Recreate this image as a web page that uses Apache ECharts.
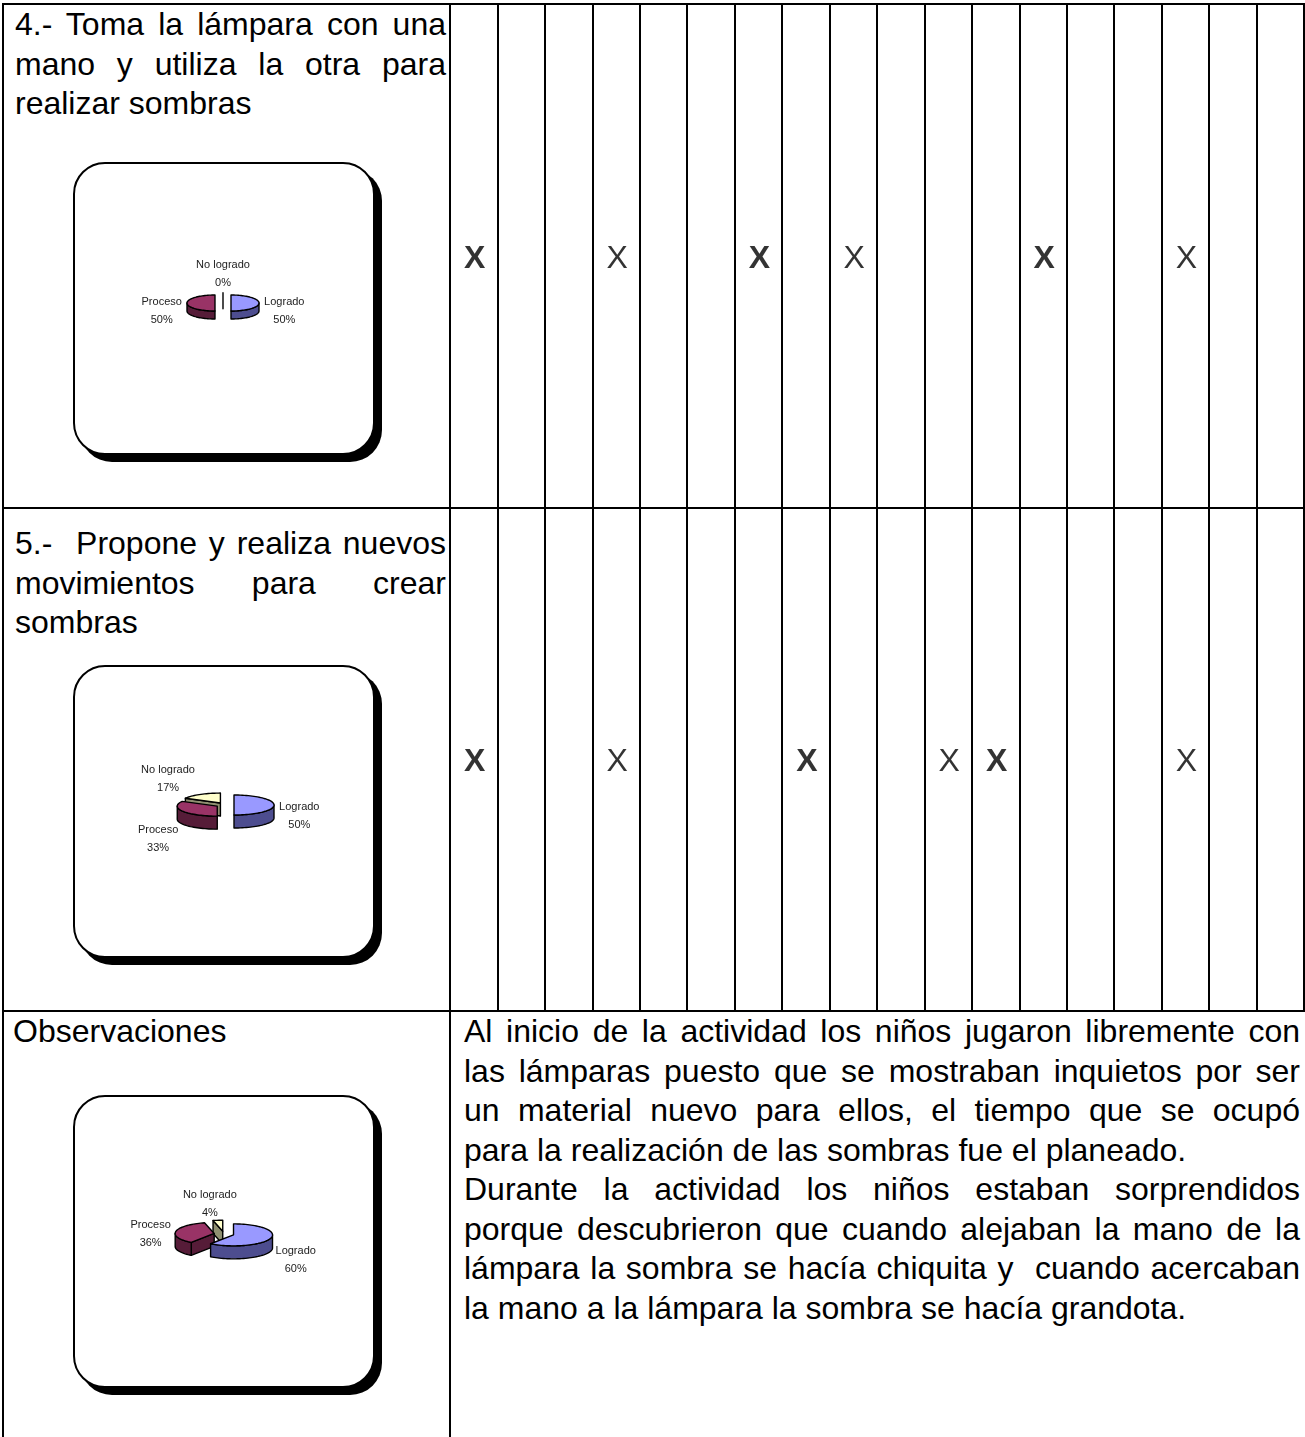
<!DOCTYPE html>
<html lang="es">
<head>
<meta charset="utf-8">
<title>Sombras - evaluación</title>
<script src="https://cdn.jsdelivr.net/npm/echarts@6/dist/echarts.min.js"></script>
<style>
html,body{margin:0;padding:0;background:#fff;}
#page{position:relative;width:1305px;height:1437px;overflow:hidden;font-family:"Liberation Sans",Arial,Helvetica,sans-serif;color:#000;}
.ln{position:absolute;background:#000;}
.cell{position:absolute;font-size:32px;line-height:39.5px;}
.j{text-align:justify;text-align-last:justify;}
.box{position:absolute;box-sizing:border-box;width:302px;height:293px;border:2.5px solid #000;border-radius:32px;background:#fff;box-shadow:7px 7px 0 0 #000;}
#chart{position:absolute;left:0;top:0;width:1305px;height:1437px;z-index:5;}
</style>
</head>
<body>
<div id="page">
  <div class="ln" style="left:2px;top:3px;width:1303px;height:2px"></div>
  <div class="ln" style="left:2px;top:3px;width:2px;height:1434px"></div>
  <div class="ln" style="left:2px;top:507px;width:1303px;height:2px"></div>
  <div class="ln" style="left:2px;top:1010px;width:1303px;height:2px"></div>
  <div class="ln" style="left:449px;top:1010px;width:2px;height:427px"></div>

  <div class="cell" style="left:15px;top:5px;width:431px">
    <div class="j">4.- Toma la lámpara con una</div>
    <div class="j">mano y utiliza la otra para</div>
    <div>realizar sombras</div>
  </div>
  <div class="cell" style="left:15px;top:524px;width:431px">
    <div class="j">5.-&nbsp; Propone y realiza nuevos</div>
    <div class="j">movimientos para crear</div>
    <div>sombras</div>
  </div>
  <div class="cell" style="left:13px;top:1012px;width:431px">
    <div>Observaciones</div>
  </div>
  <div class="cell" style="left:464px;top:1012px;width:836px">
    <div class="j">Al inicio de la actividad los niños jugaron libremente con</div>
    <div class="j">las lámparas puesto que se mostraban inquietos por ser</div>
    <div class="j">un material nuevo para ellos, el tiempo que se ocupó</div>
    <div>para la realización de las sombras fue el planeado.</div>
    <div class="j">Durante la actividad los niños estaban sorprendidos</div>
    <div class="j">porque descubrieron que cuando alejaban la mano de la</div>
    <div class="j">lámpara la sombra se hacía chiquita y&nbsp; cuando acercaban</div>
    <div>la mano a la lámpara la sombra se hacía grandota.</div>
  </div>

  <div class="box" style="left:73px;top:162px"></div>
  <div class="box" style="left:73px;top:665px"></div>
  <div class="box" style="left:73px;top:1095px"></div>

  <div id="chart"></div>
</div>
<script>
// ---------- data ----------
const columns = ['1','2','3','4','5','6','7','8','9','10','11','12','13','14','15','16','17','18'];
const indicators = ['Indicador 4', 'Indicador 5'];
const boldMarks = [['1','Indicador 4'], ['7','Indicador 4'], ['13','Indicador 4'],
                   ['1','Indicador 5'], ['8','Indicador 5'], ['12','Indicador 5']];
const plainMarks = [['4','Indicador 4'], ['9','Indicador 4'], ['16','Indicador 4'],
                    ['4','Indicador 5'], ['11','Indicador 5'], ['16','Indicador 5']];

const pieNames = ['Logrado', 'Proceso', 'No logrado'];
const pieIndicador4 = [50, 50, 0];
const pieIndicador5 = [50, 33, 17];
const pieObservaciones = [60, 36, 4];

// ---------- style / layout ----------
const pieColors = [
  { top: '#9999FF', side: '#4D4D8F' },
  { top: '#993366', side: '#561C38' },
  { top: '#FFFFCC', side: '#8F8F70' }
];
const pieLayouts = [
  { cx: 223, cy: 303, a: 28, b: 8, depth: 8, explode: 8 },
  { cx: 225, cy: 805, a: 40, b: 10, depth: 13, explode: 9 },
  { cx: 224, cy: 1234, a: 39, b: 11, depth: 13, explode: 10 }
];
const FONT = '"Liberation Sans", Arial, sans-serif';
const RAD = Math.PI / 180;

function pie3D(values, L) {
  const total = values.reduce((s, v) => s + v, 0);
  const starts = [];
  let acc = 0;
  values.forEach(v => { starts.push(acc / total * 360); acc += v; });
  const f = u => Math.sign(u) * Math.min(1, Math.abs(u) * 2);
  return {
    type: 'custom',
    coordinateSystem: 'none',
    silent: true,
    animation: false,
    data: values.map((v, i) => ({ name: pieNames[i], value: v })),
    renderItem: function (params, api) {
      const i = params.dataIndex;
      const v = api.value(0);
      const s = starts[i];
      const e = s + v / total * 360;
      const m = (s + e) / 2;
      const sinM = Math.sin(m * RAD), cosM = Math.cos(m * RAD);
      const k = L.b / L.a;
      const cx = L.cx + L.explode * sinM;
      const cy = L.cy - L.explode * cosM * k;
      const P = (deg, dz) => [cx + L.a * Math.sin(deg * RAD), cy - L.b * Math.cos(deg * RAD) + dz];
      const arc = (a0, a1, dz) => {
        const n = Math.max(1, Math.ceil(Math.abs(a1 - a0) / 3));
        const pts = [];
        for (let j = 0; j <= n; j++) pts.push(P(a0 + (a1 - a0) * j / n, dz));
        return pts;
      };
      const col = pieColors[i];
      const line = { stroke: '#000', lineWidth: 1.4, lineJoin: 'round' };
      const base = Math.round((1 - cosM) * 100) * 4;
      const kids = [];
      const walls = [];
      if (Math.sin(s * RAD) < -1e-6 || v === 0) walls.push(s);
      if (Math.sin(e * RAD) > 1e-6) walls.push(e);
      walls.forEach(w => {
        kids.push({ type: 'polygon', z2: base,
          shape: { points: [[cx, cy], P(w, 0), P(w, L.depth), [cx, cy + L.depth]] },
          style: Object.assign({ fill: col.side }, line) });
      });
      const w0 = Math.max(s, 90), w1 = Math.min(e, 270);
      if (w1 > w0) {
        kids.push({ type: 'polygon', z2: base + 1,
          shape: { points: arc(w0, w1, 0).concat(arc(w1, w0, L.depth)) },
          style: Object.assign({ fill: col.side }, line) });
      }
      if (v > 0) {
        kids.push({ type: 'polygon', z2: base + 2,
          shape: { points: [[cx, cy]].concat(arc(s, e, 0)) },
          style: Object.assign({ fill: col.top }, line) });
      }
      // label block: name + percentage, placed just outside the slice
      const name = pieNames[i];
      const hw = name.length * 2.9 + 1, hh = 18, g = 4;
      const ax = cx + (L.a + g) * sinM;
      const ay = cy - (L.b + g) * cosM + L.depth / 2 + 4 - 5 * Math.abs(cosM);
      kids.push({ type: 'text', z2: 3000, x: ax + hw * f(sinM), y: ay + hh * f(-cosM),
        style: { text: name + '\n' + Math.round(v) + '%', fill: '#222', fontSize: 11,
                 fontFamily: FONT, lineHeight: 18, align: 'center', verticalAlign: 'middle' } });
      return { type: 'group', children: kids };
    }
  };
}

const chart = echarts.init(document.getElementById('chart'), null, { renderer: 'canvas' });
const markLabel = (weight) => ({
  show: true, position: 'inside', offset: [1, 3], formatter: 'X', fontSize: 32, fontWeight: weight,
  color: '#000', fontFamily: FONT
});
chart.setOption({
  animation: false,
  grid: { left: 450, top: 4, width: 854, height: 1007 },
  xAxis: {
    type: 'category', data: columns, boundaryGap: true,
    axisLine: { show: false }, axisTick: { show: false }, axisLabel: { show: false },
    splitLine: { show: true, interval: 0, lineStyle: { color: '#000', width: 2 } }
  },
  yAxis: {
    type: 'category', data: indicators, inverse: true,
    axisLine: { show: false }, axisTick: { show: false }, axisLabel: { show: false },
    splitLine: { show: false }
  },
  series: [
    { type: 'scatter', name: 'X', data: boldMarks, symbolSize: 1, silent: true,
      itemStyle: { color: 'rgba(0,0,0,0)' }, label: markLabel('bold') },
    { type: 'scatter', name: 'x', data: plainMarks, symbolSize: 1, silent: true,
      itemStyle: { color: 'rgba(0,0,0,0)' }, label: markLabel('normal') },
    pie3D(pieIndicador4, pieLayouts[0]),
    pie3D(pieIndicador5, pieLayouts[1]),
    pie3D(pieObservaciones, pieLayouts[2])
  ]
});
</script>
</body>
</html>
